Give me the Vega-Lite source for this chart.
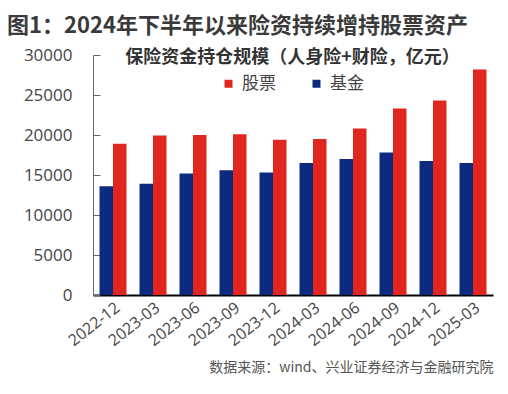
{
  "$schema": "https://vega.github.io/schema/vega-lite/v6.json",
  "width": 400,
  "height": 240,
  "autosize": "none",
  "padding": {"left": 93, "top": 55, "right": 15, "bottom": 99},
  "background": "white",
  "title": {
    "text": "图1：2024年下半年以来险资持续增持股票资产",
    "anchor": "start",
    "frame": "group",
    "dx": -86,
    "dy": 4,
    "offset": 12,
    "fontSize": 22,
    "fontWeight": "bold",
    "font": "Noto Sans CJK SC",
    "color": "#3a3a3a"
  },
  "config": {
    "view": {"stroke": null},
    "font": "Noto Sans CJK SC"
  },
  "data": {
    "values": [
      {"date": "2022-12", "type": "基金", "value": 13600},
      {"date": "2022-12", "type": "股票", "value": 18900},
      {"date": "2023-03", "type": "基金", "value": 13900},
      {"date": "2023-03", "type": "股票", "value": 19950},
      {"date": "2023-06", "type": "基金", "value": 15200},
      {"date": "2023-06", "type": "股票", "value": 20000},
      {"date": "2023-09", "type": "基金", "value": 15600},
      {"date": "2023-09", "type": "股票", "value": 20100},
      {"date": "2023-12", "type": "基金", "value": 15300},
      {"date": "2023-12", "type": "股票", "value": 19400},
      {"date": "2024-03", "type": "基金", "value": 16500},
      {"date": "2024-03", "type": "股票", "value": 19500},
      {"date": "2024-06", "type": "基金", "value": 17000},
      {"date": "2024-06", "type": "股票", "value": 20800},
      {"date": "2024-09", "type": "基金", "value": 17800},
      {"date": "2024-09", "type": "股票", "value": 23300},
      {"date": "2024-12", "type": "基金", "value": 16750},
      {"date": "2024-12", "type": "股票", "value": 24300},
      {"date": "2025-03", "type": "基金", "value": 16500},
      {"date": "2025-03", "type": "股票", "value": 28200}
    ]
  },
  "mark": {"type": "bar"},
  "encoding": {
    "x": {
      "field": "date",
      "type": "nominal",
      "scale": {"paddingInner": 0.325, "paddingOuter": 0.1625},
      "axis": {
        "title": "数据来源：wind、兴业证券经济与金融研究院",
        "titleAnchor": "end",
        "titleFontSize": 14,
        "titleFontWeight": "normal",
        "titleColor": "#555555",
        "titlePadding": 12,
        "labelAngle": -38,
        "labelFontSize": 16,
        "labelColor": "#444444",
        "labelFont": "Open Sans",
        "labelPadding": 4,
        "ticks": false,
        "domainColor": "#000000",
        "domainWidth": 2
      }
    },
    "xOffset": {"field": "type", "type": "nominal", "sort": ["基金", "股票"], "scale": {"paddingInner": 0}},
    "y": {
      "field": "value",
      "type": "quantitative",
      "scale": {"domain": [0, 30000]},
      "axis": {
        "title": "保险资金持仓规模（人身险+财险，亿元）",
        "titleAngle": 0,
        "titleX": 199,
        "titleY": 2,
        "titleAlign": "center",
        "titleBaseline": "middle",
        "titleFontSize": 18,
        "titleFontWeight": "bold",
        "titleColor": "#333333",
        "titleLimit": 400,
        "values": [0, 5000, 10000, 15000, 20000, 25000, 30000],
        "grid": false,
        "tickSize": -7,
        "tickColor": "#666666",
        "domainColor": "#666666",
        "labelPadding": 28,
        "labelFontSize": 17,
        "labelFont": "Open Sans",
        "labelColor": "#444444",
        "format": "d"
      }
    },
    "color": {
      "field": "type",
      "type": "nominal",
      "scale": {"domain": ["股票", "基金"], "range": ["#E1261F", "#0C2A80"]},
      "legend": {
        "title": null,
        "orient": "none",
        "legendX": 127,
        "legendY": 20,
        "direction": "horizontal",
        "labelFontSize": 17,
        "labelColor": "#444444",
        "labelOffset": 5,
        "columnPadding": 32,
        "symbolType": "square",
        "symbolSize": 64,
        "symbolStrokeWidth": 0
      }
    }
  }
}
